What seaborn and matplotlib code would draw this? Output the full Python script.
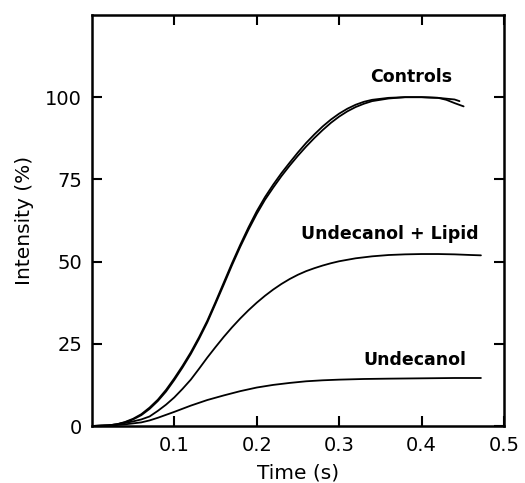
import pandas as pd
import seaborn as sns
import matplotlib.pyplot as plt

sns.set_style("ticks")
plt.rcParams['font.family'] = ['DejaVu Sans']
plt.rcParams['text.color'] = 'black'
plt.rcParams['axes.labelcolor'] = 'black'
plt.rcParams['xtick.color'] = 'black'
plt.rcParams['ytick.color'] = 'black'
plt.rcParams['axes.edgecolor'] = 'black'

# Controls (two runs)
ctrl1_t = [0.00, 0.02, 0.03, 0.04, 0.05, 0.06, 0.07, 0.08, 0.09, 0.10, 0.11, 0.12, 0.13, 0.14,
           0.15, 0.16, 0.17, 0.18, 0.19, 0.20, 0.21, 0.22, 0.23, 0.24, 0.25, 0.26, 0.27, 0.28,
           0.29, 0.30, 0.31, 0.32, 0.33, 0.34, 0.36, 0.38, 0.40, 0.42, 0.43, 0.44, 0.451]
ctrl1_v = [0, 0.2, 0.5, 1.2, 2.2, 3.6, 5.6, 8.0, 11.0, 14.5, 18.3, 22.4, 27.0, 32.0,
           37.7, 43.6, 49.5, 55.1, 60.4, 65.3, 69.6, 73.4, 76.9, 80.1, 83.2, 86.1, 88.7, 91.1,
           93.2, 95.0, 96.5, 97.7, 98.6, 99.2, 99.8, 100, 100, 99.8, 99.2, 98.2, 97.2]
ctrl2_t = [0.00, 0.02, 0.03, 0.04, 0.05, 0.06, 0.07, 0.08, 0.09, 0.10, 0.11, 0.12, 0.13, 0.14,
           0.15, 0.16, 0.17, 0.18, 0.19, 0.20, 0.21, 0.22, 0.23, 0.24, 0.25, 0.26, 0.27, 0.28,
           0.29, 0.30, 0.31, 0.32, 0.33, 0.34, 0.36, 0.38, 0.40, 0.42, 0.44, 0.446]
ctrl2_v = [0, 0.2, 0.5, 1.1, 2.0, 3.3, 5.2, 7.6, 10.5, 14.0, 17.8, 21.9, 26.5, 31.5,
           37.2, 43.0, 48.9, 54.5, 59.7, 64.5, 68.8, 72.5, 76.0, 79.2, 82.2, 85.0, 87.6, 90.0,
           92.2, 94.1, 95.7, 97.0, 98.0, 98.8, 99.6, 100, 100, 99.8, 99.3, 98.8]

# Undecanol + Lipid
lipid_t = [0.00, 0.02, 0.03, 0.04, 0.05, 0.06, 0.07, 0.08, 0.09, 0.10, 0.11, 0.12, 0.13, 0.14,
           0.15, 0.16, 0.17, 0.18, 0.19, 0.20, 0.21, 0.22, 0.23, 0.24, 0.25, 0.26, 0.27, 0.28,
           0.29, 0.30, 0.32, 0.34, 0.36, 0.38, 0.40, 0.42, 0.44, 0.46, 0.472]
lipid_v = [0, 0.2, 0.5, 0.9, 1.4, 2.0, 2.9, 4.6, 6.5, 8.7, 11.3, 14.1, 17.4, 20.8,
           24.0, 27.1, 30.0, 32.7, 35.2, 37.5, 39.6, 41.5, 43.2, 44.7, 46.0, 47.1, 48.0, 48.8,
           49.5, 50.1, 51.0, 51.6, 52.0, 52.2, 52.3, 52.3, 52.2, 52.0, 51.9]

# Undecanol
undec_t = [0.00, 0.02, 0.04, 0.05, 0.06, 0.07, 0.08, 0.09, 0.10, 0.12, 0.14, 0.16, 0.18, 0.20,
           0.22, 0.24, 0.26, 0.28, 0.30, 0.33, 0.36, 0.40, 0.44, 0.472]
undec_v = [0, 0.1, 0.5, 0.8, 1.1, 1.7, 2.5, 3.4, 4.3, 6.2, 7.9, 9.3, 10.6, 11.7,
           12.5, 13.1, 13.6, 13.9, 14.1, 14.3, 14.4, 14.5, 14.6, 14.6]

series = [(ctrl1_t, ctrl1_v), (ctrl2_t, ctrl2_v), (lipid_t, lipid_v), (undec_t, undec_v)]

labels = ["Controls", "Undecanol + Lipid", "Undecanol"]
label_x = [0.388, 0.361, 0.392]
label_y = [106, 58.5, 20]

xticks = [0.1, 0.2, 0.3, 0.4, 0.5]
yticks = [0, 25, 50, 75, 100]

fig = plt.figure(figsize=(5.25, 4.83), dpi=100)
ax = fig.add_axes([0.175, 0.118, 0.785, 0.851])

for t, v in series:
    df = pd.DataFrame({"t": t, "v": v})
    sns.lineplot(data=df, x="t", y="v", ax=ax, color="black", linewidth=1.3, sort=False)

for lab, lx, ly in zip(labels, label_x, label_y):
    ax.text(lx, ly, lab, ha="center", va="center", fontsize=12.5, fontweight="bold")

ax.set_xlim(0, 0.5)
ax.set_ylim(0, 125)
ax.set_xticks(xticks)
ax.set_yticks(yticks)
ax.set_xticklabels([f"{x:.1f}" for x in xticks])
ax.tick_params(direction="in", length=7, width=1.5, top=True, right=True, labelsize=14, pad=7)
for sp in ax.spines.values():
    sp.set_linewidth(1.8)
    sp.set_visible(True)
ax.set_xlabel("Time (s)", fontsize=14.5, labelpad=6)
ax.set_ylabel("Intensity (%)", fontsize=14.5, labelpad=8)

fig.savefig("out.png", dpi=100)
